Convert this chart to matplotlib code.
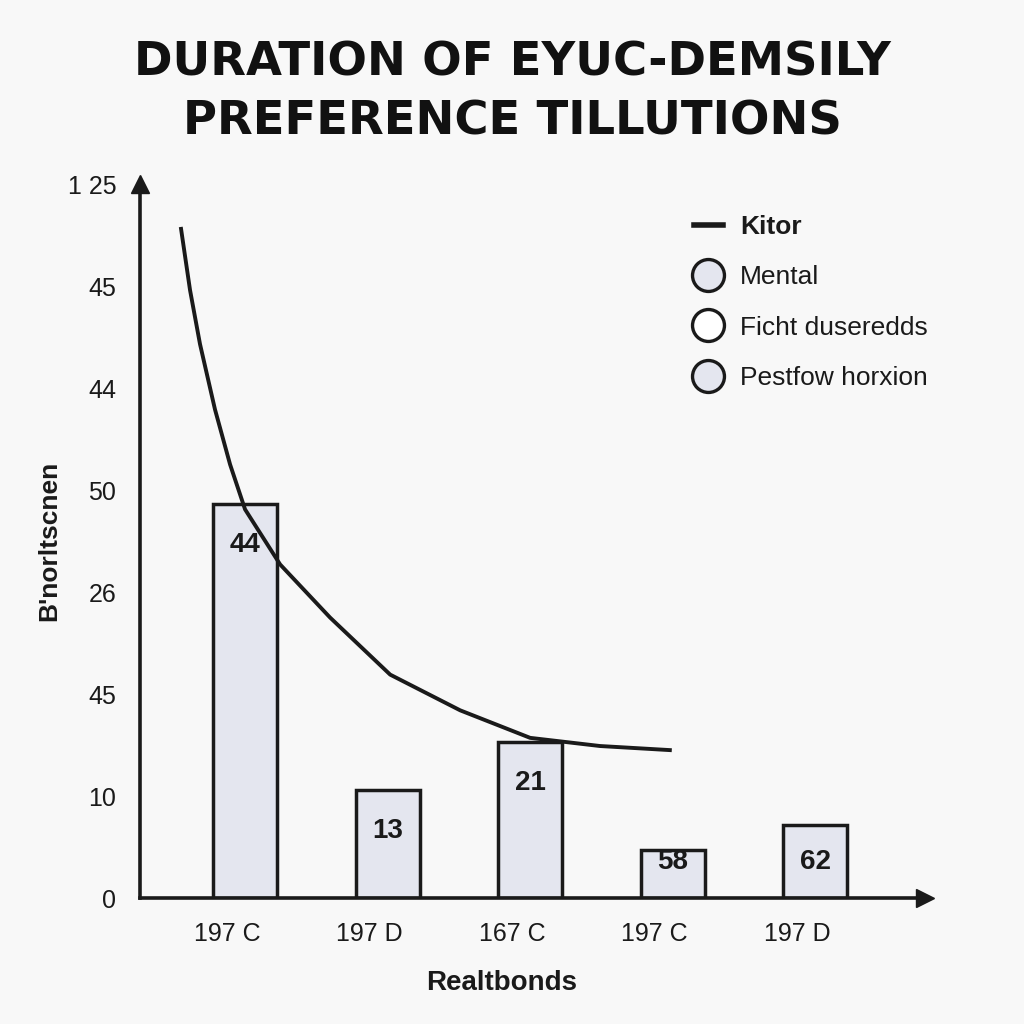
import matplotlib
matplotlib.use("Agg")
import matplotlib.pyplot as plt
import matplotlib.transforms as mtrans
from matplotlib.lines import Line2D
import numpy as np

plt.rcParams['font.family'] = ['Liberation Sans', 'DejaVu Sans']

categories = ["197 C", "197 D", "167 C", "197 C", "197 D"]
bar_values = [3.86, 1.06, 1.53, 0.47, 0.72]
bar_labels = ["44", "13", "21", "58", "62"]
ytick_labels = ["0", "10", "45", "26", "50", "44", "45", "1 25"]
line_x = [-0.449, -0.386, -0.316, -0.211, -0.105, 0.0, 0.246, 0.596, 1.018, 1.509, 2.0, 2.49, 2.98]
line_y = [6.56, 5.96, 5.43, 4.79, 4.25, 3.81, 3.27, 2.75, 2.19, 1.84, 1.57, 1.49, 1.45]
legend_labels = ["Kitor", "Mental", "Ficht duseredds", "Pestfow horxion"]

bg = '#f8f8f8'
bar_fill = '#e4e6ef'
ink = '#1a1a1a'

fig = plt.figure(figsize=(10.24, 10.24), dpi=100, facecolor=bg)
ax = fig.add_axes([140/1024, 126/1024, 785/1024, 714/1024])
ax.set_facecolor(bg)

x = np.arange(len(categories))
ax.bar(x, bar_values, width=0.45, color=bar_fill, edgecolor=ink, linewidth=2.5, zorder=2)
for xi, v, lab in zip(x, bar_values, bar_labels):
    ax.text(xi, max(v - 0.4, 0.35), lab, ha='center', va='center', fontsize=20,
            fontweight='bold', color=ink, zorder=4)

ax.plot(line_x, line_y, color=ink, linewidth=2.8, zorder=3)

ax.set_xlim(-0.737, 4.77)
ax.set_ylim(0, 7.0)
ax.set_yticks(range(len(ytick_labels)))
ax.set_yticklabels(ytick_labels, fontsize=18, color=ink)
ax.set_xticks(x)
ax.set_xticklabels([])
xlab_trans = mtrans.blended_transform_factory(ax.transData, ax.transAxes) + \
    mtrans.ScaledTranslation(-18/100, -24/100, fig.dpi_scale_trans)
for xi, cat in zip(x, categories):
    ax.text(xi, 0, cat, transform=xlab_trans, ha='center', va='top', fontsize=18, color=ink)
ax.tick_params(axis='both', length=0)
ax.tick_params(axis='y', pad=17)

for s in ['top', 'right']:
    ax.spines[s].set_visible(False)
for s in ['left', 'bottom']:
    ax.spines[s].set_linewidth(2.6)
    ax.spines[s].set_color(ink)
ax.plot(0, 1, marker='^', markersize=13, color=ink, transform=ax.transAxes, clip_on=False)
ax.plot(1, 0, marker='>', markersize=13, color=ink, transform=ax.transAxes, clip_on=False)

ax.set_xlabel("Realtbonds", fontsize=20, fontweight='bold', labelpad=0, color=ink)
ax.xaxis.set_label_coords((502 - 140) / 785, -72 / 714)
ax.set_ylabel("B'norltscnen", fontsize=19, fontweight='bold', labelpad=5, color=ink)

handles = [
    Line2D([], [], color=ink, linewidth=4),
    Line2D([], [], marker='o', linestyle='none', markersize=23, markerfacecolor=bar_fill, markeredgecolor=ink, markeredgewidth=2.4),
    Line2D([], [], marker='o', linestyle='none', markersize=23, markerfacecolor='white', markeredgecolor=ink, markeredgewidth=2.4),
    Line2D([], [], marker='o', linestyle='none', markersize=23, markerfacecolor=bar_fill, markeredgecolor=ink, markeredgewidth=2.4),
]
leg = ax.legend(handles, legend_labels, loc='upper left', bbox_to_anchor=(0.675, 0.99), frameon=False,
                fontsize=19, handlelength=1.1, handletextpad=0.65, labelspacing=1.0)
leg.get_texts()[0].set_fontweight('bold')
for t in leg.get_texts():
    t.set_color(ink)

fig.text(0.5, 0.938, "DURATION OF EYUC-DEMSILY", ha='center', va='center', fontsize=33.5,
         fontweight='bold', color='#111111', family='DejaVu Sans')
fig.text(0.5, 0.881, "PREFERENCE TILLUTIONS", ha='center', va='center', fontsize=33.5,
         fontweight='bold', color='#111111', family='DejaVu Sans')

fig.savefig("out.png", dpi=100, facecolor=bg)
